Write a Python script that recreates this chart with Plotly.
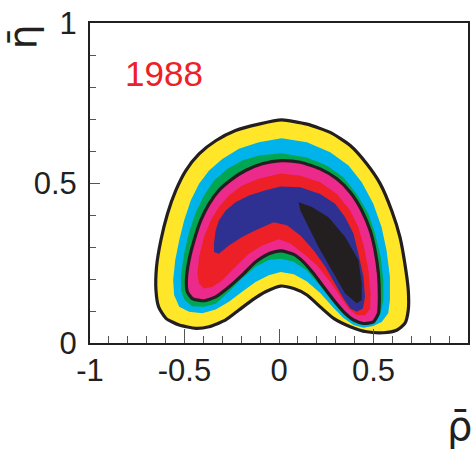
import plotly.graph_objects as go

# Confidence-level regions in the (rho-bar, eta-bar) plane, outermost first.
outer_rho = [-0.598, -0.637, -0.651, -0.648, -0.625, -0.590, -0.546, -0.493, -0.423, -0.335,
             -0.230, -0.107, 0.014, 0.148, 0.271, 0.377, 0.464, 0.535, 0.596, 0.640,
             0.666, 0.684, 0.684, 0.666, 0.622, 0.552, 0.464, 0.377, 0.289, 0.218,
             0.148, 0.078, 0.008, -0.071, -0.142, -0.212, -0.282, -0.370, -0.440, -0.528]
outer_eta = [0.077, 0.113, 0.165, 0.238, 0.321, 0.404, 0.477, 0.539, 0.591, 0.632,
             0.664, 0.684, 0.697, 0.684, 0.658, 0.617, 0.560, 0.498, 0.414, 0.331,
             0.248, 0.165, 0.103, 0.061, 0.040, 0.032, 0.035, 0.051, 0.077, 0.113,
             0.150, 0.170, 0.178, 0.160, 0.134, 0.103, 0.072, 0.051, 0.046, 0.056]

cyan_rho = [-0.555, -0.560, -0.549, -0.528, -0.502, -0.467, -0.423, -0.370, -0.300, -0.212,
            -0.107, 0.014, 0.148, 0.271, 0.368, 0.438, 0.499, 0.543, 0.569, 0.587,
            0.587, 0.578, 0.543, 0.499, 0.447, 0.394, 0.341, 0.289, 0.218, 0.146,
            0.078, 0.009, -0.054, -0.124, -0.195, -0.265, -0.335, -0.406, -0.476, -0.528]
cyan_eta = [0.150, 0.196, 0.259, 0.321, 0.383, 0.445, 0.498, 0.539, 0.575, 0.607,
            0.627, 0.640, 0.627, 0.596, 0.555, 0.502, 0.435, 0.362, 0.290, 0.207,
            0.134, 0.093, 0.066, 0.053, 0.048, 0.056, 0.078, 0.109, 0.156, 0.193,
            0.215, 0.222, 0.212, 0.191, 0.160, 0.129, 0.105, 0.093, 0.098, 0.113]

green_rho = [-0.516, -0.519, -0.502, -0.476, -0.440, -0.397, -0.344, -0.274, -0.195, -0.107,
             0.012, 0.148, 0.253, 0.341, 0.411, 0.473, 0.508, 0.538, 0.552, 0.552,
             0.538, 0.515, 0.484, 0.447, 0.394, 0.341, 0.289, 0.218, 0.146, 0.078,
             0.009, -0.054, -0.124, -0.195, -0.265, -0.335, -0.397, -0.460, -0.499]
green_eta = [0.160, 0.207, 0.279, 0.347, 0.409, 0.461, 0.508, 0.544, 0.570, 0.586,
             0.593, 0.580, 0.555, 0.518, 0.466, 0.404, 0.342, 0.269, 0.196, 0.134,
             0.093, 0.070, 0.059, 0.056, 0.065, 0.089, 0.125, 0.178, 0.227, 0.254,
             0.263, 0.259, 0.238, 0.202, 0.160, 0.123, 0.113, 0.115, 0.134]

mid_rho = [-0.458, -0.485, -0.490, -0.476, -0.449, -0.414, -0.370, -0.318, -0.247, -0.177,
           -0.089, 0.012, 0.113, 0.218, 0.306, 0.377, 0.438, 0.482, 0.508, 0.526,
           0.531, 0.526, 0.499, 0.447, 0.394, 0.341, 0.289, 0.236, 0.183, 0.130,
           0.078, 0.009, -0.054, -0.124, -0.195, -0.265, -0.335, -0.397]
mid_eta = [0.139, 0.160, 0.196, 0.259, 0.321, 0.383, 0.435, 0.477, 0.513, 0.539,
           0.560, 0.570, 0.565, 0.544, 0.513, 0.471, 0.414, 0.352, 0.290, 0.217,
           0.144, 0.093, 0.066, 0.061, 0.072, 0.098, 0.134, 0.175, 0.217, 0.253,
           0.277, 0.288, 0.279, 0.253, 0.212, 0.175, 0.144, 0.132]

red_rho = [-0.432, -0.423, -0.397, -0.361, -0.318, -0.265, -0.195, -0.107, 0.009, 0.113,
           0.218, 0.306, 0.377, 0.420, 0.450, 0.473, 0.485, 0.482, 0.456, 0.411,
           0.368, 0.324, 0.271, 0.201, 0.130, 0.060, -0.001, -0.089, -0.159, -0.230,
           -0.300, -0.353, -0.397, -0.423]
red_eta = [0.217, 0.269, 0.331, 0.383, 0.425, 0.461, 0.492, 0.513, 0.530, 0.523,
           0.502, 0.466, 0.414, 0.362, 0.300, 0.227, 0.155, 0.108, 0.087, 0.087,
           0.108, 0.144, 0.191, 0.243, 0.279, 0.311, 0.324, 0.305, 0.279, 0.238,
           0.196, 0.175, 0.170, 0.186]

blue_rho = [-0.344, -0.344, -0.335, -0.318, -0.282, -0.230, -0.159, -0.071, 0.009, 0.113,
            0.218, 0.297, 0.350, 0.394, 0.420, 0.447, 0.455, 0.444, 0.411, 0.377,
            0.341, 0.297, 0.245, 0.183, 0.113, 0.042, -0.028, -0.124, -0.195, -0.265,
            -0.318]
blue_eta = [0.284, 0.311, 0.352, 0.383, 0.414, 0.440, 0.461, 0.477, 0.489, 0.487,
            0.466, 0.435, 0.393, 0.342, 0.279, 0.207, 0.144, 0.108, 0.098, 0.108,
            0.139, 0.186, 0.238, 0.290, 0.336, 0.368, 0.377, 0.352, 0.331, 0.305,
            0.279]

core_rho = [0.104, 0.174, 0.262, 0.350, 0.420, 0.438, 0.438, 0.411, 0.350, 0.280,
            0.209, 0.157, 0.113]
core_eta = [0.440, 0.425, 0.393, 0.331, 0.259, 0.186, 0.134, 0.124, 0.155, 0.227,
            0.300, 0.362, 0.414]

x_tickvals = [-1, -0.5, 0, 0.5, 1]
x_ticktext = ["-1", "-0.5", "0", "0.5", "1"]
y_tickvals = [0, 0.5, 1]
y_ticktext = ["0", "0.5", "1"]

year_label = "1988"
x_title = "\u03c1\u0304"   # rho with macron
y_title = "\u03b7\u0304"   # eta with macron

YELLOW = "#ffe629"
CYAN = "#00b4eb"
GREEN = "#00a651"
PINK = "#ec2a8c"
RED = "#ed2027"
BLUE = "#2e3192"
BLACK = "#231f20"

SANS = "Liberation Sans, Arial, sans-serif"
SYMBOL = "DejaVu Sans, Liberation Sans, sans-serif"

# plot frame in pixels, used to place the free-standing symbols
L, R, T, B = 90, 470, 22, 343


def px_to_paper(px, py):
    return (px - L) / (R - L), (B - py) / (B - T)


fig = go.Figure()

regions = [
    (outer_rho, outer_eta, YELLOW),
    (cyan_rho, cyan_eta, CYAN),
    (green_rho, green_eta, GREEN),
    (mid_rho, mid_eta, PINK),
    (red_rho, red_eta, RED),
    (blue_rho, blue_eta, BLUE),
    (core_rho, core_eta, BLACK),
]
for xs, ys, col in regions:
    fig.add_trace(go.Scatter(x=xs, y=ys, mode="lines", fill="toself",
                             fillcolor=col, line=dict(width=0, color=col),
                             hoverinfo="skip", showlegend=False))

# contour lines drawn over the filled levels
for xs, ys in [(outer_rho, outer_eta), (mid_rho, mid_eta)]:
    fig.add_trace(go.Scatter(x=xs + xs[:1], y=ys + ys[:1], mode="lines",
                             line=dict(color=BLACK, width=3.2, shape="spline", smoothing=0.6),
                             hoverinfo="skip", showlegend=False))

axis_common = dict(showgrid=False, zeroline=False, showline=True, linewidth=2,
                   linecolor=BLACK, mirror=True, ticks="inside", tickwidth=1,
                   tickcolor="#555555", tickfont=dict(family=SANS, size=31, color=BLACK))

fig.update_xaxes(range=[-1, 1], tickmode="array", tickvals=x_tickvals, ticktext=x_ticktext,
                 ticklen=14, ticklabelstandoff=-1,
                 minor=dict(tickmode="linear", tick0=0, dtick=0.1, ticks="inside",
                            ticklen=7, tickcolor="#555555"),
                 **axis_common)
fig.update_yaxes(range=[0, 1], tickmode="array", tickvals=y_tickvals, ticktext=y_ticktext,
                 ticklen=10, ticklabelstandoff=5,
                 minor=dict(tickmode="linear", tick0=0, dtick=0.1, ticks="inside",
                            ticklen=6, tickcolor="#555555"),
                 **axis_common)

fig.add_annotation(x=-0.607, y=0.843, xref="x", yref="y", text=year_label,
                   showarrow=False, font=dict(family=SANS, size=35, color=RED))

# eta-bar, rotated along the vertical axis, near its top
ex, ey = px_to_paper(23, 36)
fig.add_annotation(x=ex, y=ey, xref="paper", yref="paper", xanchor="center",
                   yanchor="middle", text=y_title, textangle=-90, showarrow=False,
                   font=dict(family=SYMBOL, size=39, color=BLACK))

# rho-bar below the right end of the horizontal axis
rx, ry = px_to_paper(461, 426)
fig.add_annotation(x=rx, y=ry, xref="paper", yref="paper", xanchor="center",
                   yanchor="middle", text=x_title, showarrow=False,
                   font=dict(family=SYMBOL, size=40, color=BLACK))

fig.update_layout(width=476, height=452, margin=dict(l=L, r=476 - R, t=T, b=452 - B),
                  paper_bgcolor="white", plot_bgcolor="white")

fig.write_html("out.html")
